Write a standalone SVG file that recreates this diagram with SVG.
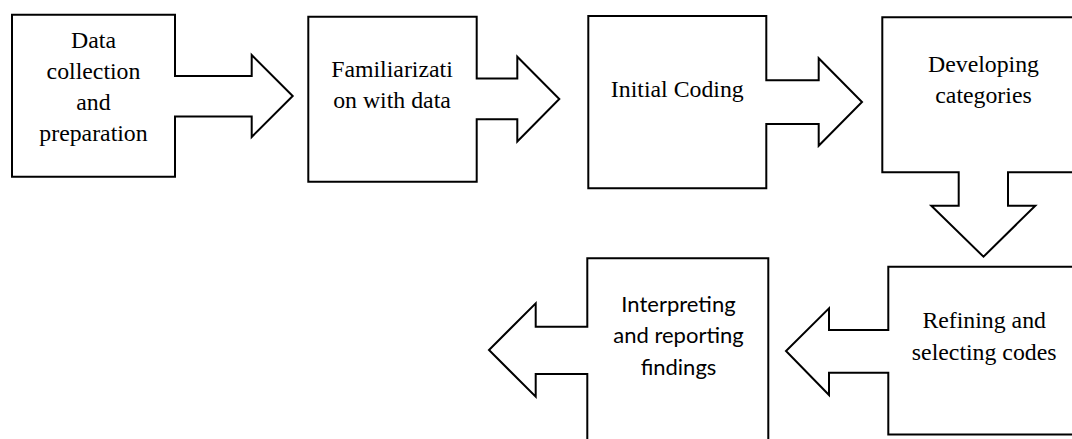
<svg xmlns="http://www.w3.org/2000/svg" width="1072" height="439" viewBox="0 0 1072 439">
<style>
.shape{fill:#fff;stroke:#000;stroke-width:2;stroke-linejoin:miter}
.t{font-family:'Liberation Serif','DejaVu Serif',serif;font-size:23.8px;fill:#000;text-anchor:middle}
.c{font-family:Lato,'Open Sans',sans-serif;font-size:22px;fill:#000;text-anchor:middle}
</style>
<rect width="1072" height="439" fill="#fff"/>
<g id="connectors"></g>
<g id="n1">
<path class="shape" d="M12,14.7 H175 V76 H251.7 V55 L292.7,96 L251.7,137 V116.5 H175 V176.7 H12 Z"/>
<text class="t" x="93.5" y="48.3">Data</text>
<text class="t" x="93.5" y="79.3">collection</text>
<text class="t" x="93.5" y="110.3">and</text>
<text class="t" x="93.5" y="141.3">preparation</text>
</g>
<g id="n2">
<path class="shape" d="M308.3,16.7 H476.7 V78.5 H517.3 V56.7 L559.3,99 L517.3,141.5 V119.3 H476.7 V181.7 H308.3 Z"/>
<text class="t" x="392" y="76.5">Familiarizati</text>
<text class="t" x="392" y="107.5">on with data</text>
</g>
<g id="n3">
<path class="shape" d="M588.3,16 H766.3 V80.3 H818.7 V58.3 L862,102 L818.7,145.7 V124 H766.3 V188.3 H588.3 Z"/>
<text class="t" x="677.3" y="96.7">Initial Coding</text>
</g>
<g id="n4">
<path class="shape" d="M882.3,17.3 H1090 V172.3 H1008 V205.7 H1035.3 L983.5,256.7 L931.3,205.7 H958.7 V172.3 H882.3 Z"/>
<text class="t" x="983.5" y="72.3">Developing</text>
<text class="t" x="983.5" y="103.3">categories</text>
</g>
<g id="n5">
<path class="shape" d="M888.3,266.7 H1090 V434.5 H888.3 V372.7 H829 V395 L786,351 L829,308.3 V330 H888.3 Z"/>
<text class="t" x="984.2" y="328.3">Refining and</text>
<text class="t" x="984.2" y="360">selecting codes</text>
</g>
<g id="n6">
<path class="shape" d="M587.3,258.3 H768.3 V460 H587.3 V374 H535.7 V396.7 L489,350 L535.7,303.3 V326.7 H587.3 Z"/>
<text class="c" x="678.5" y="311.7">Interpreting</text>
<text class="c" x="678.5" y="343.3">and reporting</text>
<text class="c" x="678.5" y="375">findings</text>
</g>
</svg>
